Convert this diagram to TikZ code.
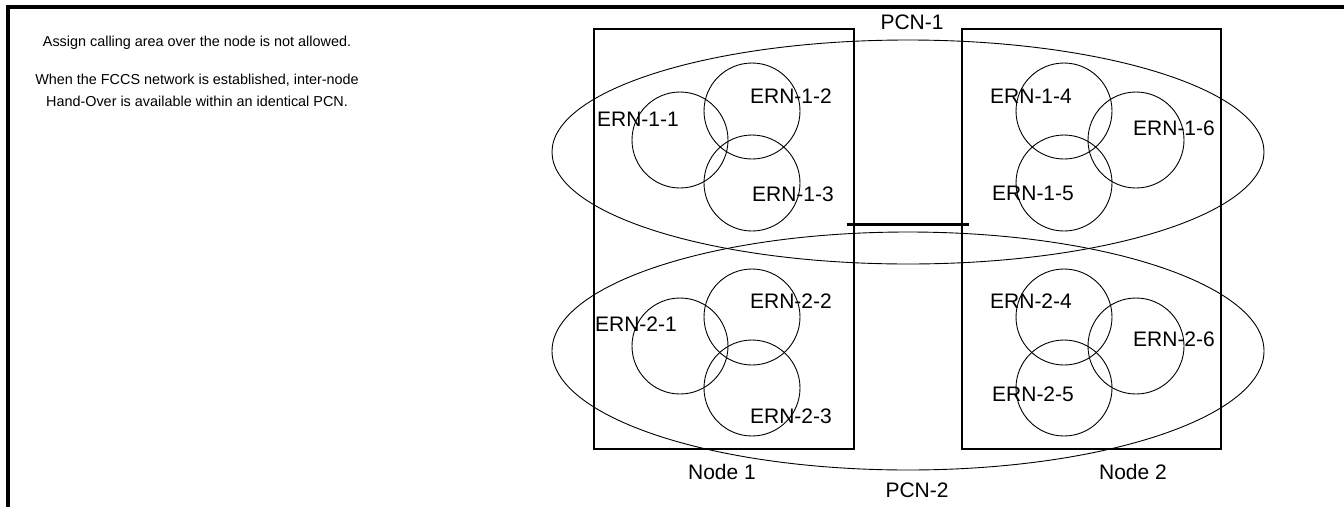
\documentclass[tikz,border=0pt]{standalone}
\usepackage{fontspec}
\setmainfont{Liberation Sans}
\usetikzlibrary{shapes.geometric}
\begin{document}
\begin{tikzpicture}[x=1pt,y=-1pt,
  box/.style={draw,line width=2pt,minimum width=#1,minimum height=420pt,inner sep=0pt},
  cell/.style={draw,line width=0.9pt,circle,minimum size=96pt,inner sep=0pt},
  pcn/.style={draw,line width=0.9pt,ellipse,inner sep=0pt},
  lbl/.style={font=\fontsize{21}{24}\selectfont,inner sep=0pt},
  note/.style={font=\fontsize{14.4}{22}\selectfont,inner sep=0pt,align=center}]
\useasboundingbox (0,0) rectangle (1344,507);
% frame
\coordinate (fa) at (8,507);
\coordinate (fb) at (8,7);
\coordinate (fc) at (1344,7);
\draw[line width=3.5pt] (fa) -- (fb) -- (fc);
% notes
\node[note] (t1) at (197,43) {Assign calling area over the node is not allowed.};
\node[note] (t2) at (197,90) {When the FCCS network is established, inter-node\\Hand-Over is available within an identical PCN.};
% node boxes
\node[box=260pt] (n1) at (724,239) {};
\node[box=259pt] (n2) at (1091.5,239) {};
% PCN ellipses
\node[pcn,minimum width=712pt,minimum height=224pt] (p1) at (908,152) {};
\node[pcn,minimum width=712pt,minimum height=238pt] (p2) at (908,351) {};
% circles row 1
\node[cell] (c11) at (680,140) {};
\node[cell] (c12) at (752,111) {};
\node[cell] (c13) at (752,183) {};
\node[cell] (c14) at (1064,111) {};
\node[cell] (c16) at (1136,140) {};
\node[cell] (c15) at (1064,183) {};
% circles row 2
\node[cell] (c21) at (680,346) {};
\node[cell] (c22) at (752,317) {};
\node[cell] (c23) at (752,388) {};
\node[cell] (c24) at (1064,317) {};
\node[cell] (c26) at (1136,346) {};
\node[cell] (c25) at (1064,388) {};
% labels
\node[lbl] (l11) at (638,119) {ERN-1-1};
\node[lbl] (l12) at (791,96) {ERN-1-2};
\node[lbl] (l13) at (793,194) {ERN-1-3};
\node[lbl] (l14) at (1031,96) {ERN-1-4};
\node[lbl] (l16) at (1174,128) {ERN-1-6};
\node[lbl] (l15) at (1033,193) {ERN-1-5};
\node[lbl] (l21) at (636,324) {ERN-2-1};
\node[lbl] (l22) at (791,301) {ERN-2-2};
\node[lbl] (l23) at (791,416) {ERN-2-3};
\node[lbl] (l24) at (1031,301) {ERN-2-4};
\node[lbl] (l26) at (1174,339) {ERN-2-6};
\node[lbl] (l25) at (1033,394) {ERN-2-5};
\node[lbl] (pl1) at (912,22) {PCN-1};
\node[lbl] (pl2) at (917,490) {PCN-2};
\node[lbl] (nl1) at (722,472) {Node 1};
\node[lbl] (nl2) at (1133,472) {Node 2};
% link between nodes
\coordinate (la) at (847,224);
\coordinate (lb) at (969,224);
\draw[line width=3pt] (la) -- (lb);
\end{tikzpicture}
\end{document}
